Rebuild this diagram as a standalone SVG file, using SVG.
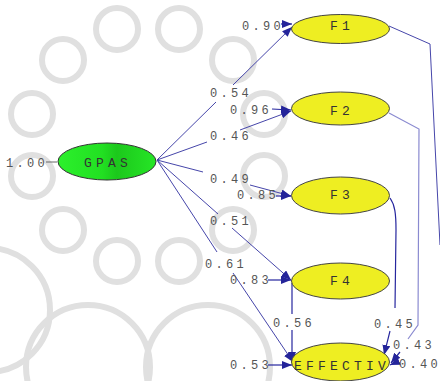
<svg xmlns="http://www.w3.org/2000/svg" width="440" height="381" viewBox="0 0 440 381">
<defs>
<marker id="ah" markerUnits="userSpaceOnUse" markerWidth="11" markerHeight="8" refX="10" refY="4" orient="auto">
<path d="M0,0 L10,4 L0,8 z" fill="#24249a"/>
</marker>
<linearGradient id="gg" x1="0" y1="0" x2="1" y2="0">
<stop offset="0" stop-color="#2cf02c"/>
<stop offset="0.45" stop-color="#22e022"/>
<stop offset="0.6" stop-color="#1cc81c"/>
<stop offset="1" stop-color="#26e626"/>
</linearGradient>
<style>
.wm{fill:none;stroke:#e0e0e0;stroke-width:6}
.yn{fill:#eeee22;stroke:#444;stroke-width:1}
.nt{font-family:"Liberation Mono",monospace;font-size:13px;letter-spacing:4.2px;fill:#333;text-anchor:middle}
.lb{font-family:"Liberation Mono",monospace;font-size:12px;letter-spacing:3.3px;fill:#555}
.c{fill:none;stroke:#4646aa;stroke-width:1}
.cd{fill:none;stroke:#26269e;stroke-width:1.2}
.cl{fill:none;stroke:#8a8ad0;stroke-width:1.2}
</style>
</defs>
<rect width="440" height="381" fill="#fff"/>
<g id="watermark">
<circle class="wm" cx="264" cy="176" r="21"/>
<circle class="wm" cx="233" cy="230" r="21"/>
<circle class="wm" cx="179" cy="261" r="21"/>
<circle class="wm" cx="117" cy="261" r="21"/>
<circle class="wm" cx="63" cy="230" r="21"/>
<circle class="wm" cx="32" cy="176" r="21"/>
<circle class="wm" cx="32" cy="114" r="21"/>
<circle class="wm" cx="63" cy="60" r="21"/>
<circle class="wm" cx="117" cy="29" r="21"/>
<circle class="wm" cx="179" cy="29" r="21"/>
<circle class="wm" cx="233" cy="60" r="21"/>
<circle class="wm" cx="264" cy="114" r="21"/>
<circle class="wm" cx="88" cy="367" r="62" stroke-width="4"/>
<circle class="wm" cx="208" cy="367" r="62" stroke-width="4"/>
<circle class="wm" cx="-12" cy="310" r="62" stroke-width="4"/>
</g>
<g id="connectors">
<path class="c" d="M157,160 L216,102"/>
<path class="c" d="M233,85 L292,27" marker-end="url(#ah)"/>
<path class="c" d="M157,160 L207,142"/>
<path class="c" d="M240,130 L291,111" marker-end="url(#ah)"/>
<path class="c" d="M157,160 L203,172"/>
<path class="c" d="M250,185 L291,196" marker-end="url(#ah)"/>
<path class="c" d="M157,160 L218,214"/>
<path class="c" d="M232,228 L291,280" marker-end="url(#ah)"/>
<path class="c" d="M157,160 L217,252" stroke="#2e2ea0"/>
<path class="c" d="M233,273 L293,362" stroke="#2e2ea0" marker-end="url(#ah)"/>
<path class="cd" d="M281,24 L292,24" marker-end="url(#ah)"/>
<path class="cd" d="M272,109 L291,110" marker-end="url(#ah)"/>
<path class="cd" d="M276,196 L291,196" marker-end="url(#ah)"/>
<path class="cd" d="M268,280 L291,280" marker-end="url(#ah)"/>
<path class="cd" d="M268,365 L292,365" marker-end="url(#ah)"/>
<path class="cd" d="M292,283 L292,314"/>
<path class="cd" d="M292,330 L292,362" marker-end="url(#ah)"/>
<path class="cd" d="M390,198 C395,205 396,214 396,230 L395,308"/>
<path class="cd" d="M390,331 L384,355" marker-end="url(#ah)"/>
<path class="cl" d="M389,113 L419,129 L418,325 L408,339"/>
<path class="cd" d="M400,352 L391,363" marker-end="url(#ah)"/>
<path class="c" d="M389,26 L430,44 L440,245"/>
<path class="cd" d="M397,362 L390,365" marker-end="url(#ah)"/>
<path d="M46,162 L57,162" stroke="#666" stroke-width="1"/>
</g>
<g id="GPAS">
<ellipse cx="107" cy="161.5" rx="49" ry="18.5" fill="url(#gg)" stroke="#333" stroke-width="1"/>
<text class="nt" x="108" y="167">GPAS</text>
</g>
<g id="F1">
<ellipse class="yn" cx="340.5" cy="29" rx="49" ry="14.5"/>
<text class="nt" x="342" y="29.5">F1</text>
</g>
<g id="F2">
<ellipse class="yn" cx="340.5" cy="108.5" rx="49" ry="16.5"/>
<text class="nt" x="342" y="115">F2</text>
</g>
<g id="F3">
<ellipse class="yn" cx="340.5" cy="195.5" rx="49" ry="18.5"/>
<text class="nt" x="342" y="199">F3</text>
</g>
<g id="F4">
<ellipse class="yn" cx="340.5" cy="281" rx="49" ry="18"/>
<text class="nt" x="342" y="285">F4</text>
</g>
<g id="EFFECTIV">
<ellipse class="yn" cx="340.5" cy="362" rx="49" ry="19"/>
<text class="nt" x="342" y="370">EFFECTIV</text>
</g>
<g id="labels">
<text class="lb" x="6" y="167">1.00</text>
<text class="lb" x="242" y="29.5">0.90</text>
<text class="lb" x="210" y="97">0.54</text>
<text class="lb" x="230" y="114">0.96</text>
<text class="lb" x="210" y="140">0.46</text>
<text class="lb" x="210" y="183">0.49</text>
<text class="lb" x="237" y="199">0.85</text>
<text class="lb" x="210" y="225">0.51</text>
<text class="lb" x="205" y="268">0.61</text>
<text class="lb" x="230" y="284">0.83</text>
<text class="lb" x="273" y="327">0.56</text>
<text class="lb" x="374" y="328">0.45</text>
<text class="lb" x="393" y="349">0.43</text>
<text class="lb" x="399" y="368">0.40</text>
<text class="lb" x="230" y="369">0.53</text>
</g>
</svg>
